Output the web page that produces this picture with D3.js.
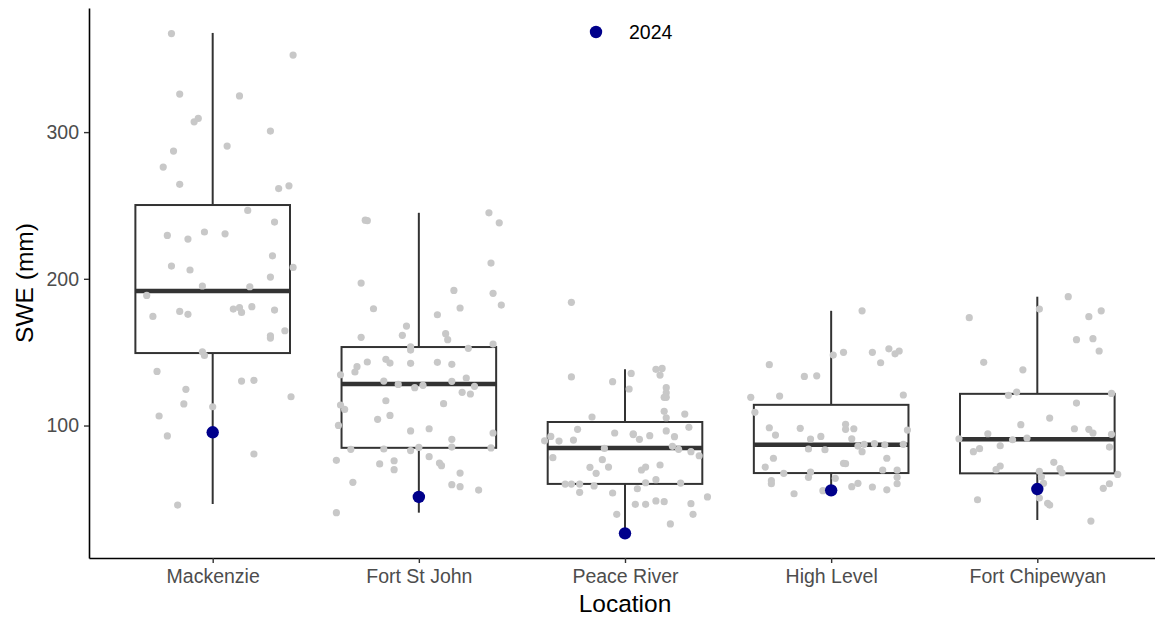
<!DOCTYPE html>
<html>
<head>
<meta charset="utf-8">
<script src="https://cdn.jsdelivr.net/npm/d3@7"></script>
<style>
  html, body { margin: 0; padding: 0; background: #ffffff; }
  svg { display: block; }
</style>
</head>
<body>
<div id="chart"></div>
<script>
// ---------------- DATA ----------------
const categories = ["Mackenzie", "Fort St John", "Peace River", "High Level", "Fort Chipewyan"];
const yTicks = [100, 200, 300];

// box statistics
const q1Values = [149.4, 84.8, 60.2, 67.6, 67.4];
const medianValues = [191.7, 128.3, 84.7, 86.9, 90.6];
const q3Values = [250.3, 153.5, 102.4, 114.1, 121.6];
const whiskerLowValues = [46.5, 40.6, 26.6, 55.8, 35.6];
const whiskerHighValues = [367.6, 245.0, 138.3, 178.2, 187.8];

// 2024 values
const values2024 = [95.4, 51.3, 26.5, 55.8, 56.7];

// historic observations: [SWE, jitter offset as fraction of category step]
const mackenzieObs = [[367.2,-0.20],[352.5,0.39],[325.9,-0.16],[324.7,0.13],[309.3,-0.07],[307.0,-0.09],[300.7,0.28],[287.1,-0.19],[290.5,0.07],[276.2,-0.24],[264.4,-0.16],[261.5,0.32],[263.4,0.37],[246.6,0.17],[238.7,0.30],[229.6,-0.22],[227.1,-0.12],[231.9,-0.04],[230.7,0.06],[215.7,0.29],[208.7,-0.20],[206.0,-0.11],[207.8,0.39],[201.2,0.28],[195.1,-0.05],[194.6,0.18],[188.7,-0.32],[174.4,-0.29],[177.8,-0.16],[175.8,-0.12],[179.4,0.10],[180.3,0.13],[177.1,0.14],[181.0,0.19],[178.7,0.30],[164.6,0.35],[161.2,0.28],[159.6,0.28],[150.3,-0.05],[147.8,-0.04],[136.9,-0.27],[130.3,0.14],[130.8,0.20],[119.6,0.38],[124.7,-0.13],[114.7,-0.14],[112.8,0.00],[106.5,-0.26],[92.9,-0.22],[80.6,0.20],[45.8,-0.17]];
const fortStJohnObs = [[240.0,-0.26],[239.6,-0.25],[245.0,0.34],[238.2,0.39],[210.7,0.35],[197.1,-0.28],[192.1,0.17],[190.1,0.36],[182.1,0.40],[179.6,-0.22],[180.1,0.20],[175.5,0.09],[167.8,-0.06],[161.5,-0.08],[160.1,-0.28],[162.6,0.13],[158.5,0.14],[155.5,0.36],[153.7,-0.04],[151.4,-0.04],[152.6,0.24],[143.3,-0.25],[140.1,-0.30],[136.5,-0.31],[145.1,-0.16],[142.6,-0.14],[142.4,-0.04],[143.1,0.09],[141.7,0.16],[134.6,-0.38],[130.3,-0.17],[128.0,-0.10],[125.8,-0.02],[127.4,0.02],[130.1,0.16],[132.4,0.23],[126.7,0.27],[122.6,0.21],[121.5,0.25],[116.9,-0.16],[114.0,-0.38],[111.0,-0.36],[114.9,0.12],[104.2,-0.20],[106.9,-0.14],[100.1,-0.39],[96.3,-0.04],[97.8,0.05],[94.9,0.36],[90.6,0.16],[83.8,-0.33],[84.0,-0.17],[82.9,-0.04],[85.1,0.00],[85.3,0.16],[84.7,0.35],[76.3,-0.40],[73.8,-0.19],[76.0,-0.12],[69.9,-0.12],[78.8,0.05],[74.4,0.10],[72.6,0.11],[67.6,0.20],[61.3,-0.32],[59.7,0.16],[58.3,0.20],[56.0,0.29],[40.6,-0.40]];
const peaceRiverObs = [[184.0,-0.26],[133.1,-0.26],[129.9,-0.06],[135.5,0.03],[124.9,0.02],[138.3,0.15],[138.9,0.18],[134.4,0.17],[125.8,0.20],[122.3,0.20],[119.2,0.19],[119.2,0.20],[109.7,0.19],[105.3,0.20],[107.8,0.29],[105.8,-0.16],[97.4,-0.23],[94.9,-0.05],[94.4,0.04],[93.8,0.04],[90.6,0.07],[93.1,0.12],[96.3,0.20],[92.4,0.24],[98.8,0.31],[89.6,-0.39],[92.6,-0.36],[89.4,-0.32],[90.1,-0.25],[84.4,-0.10],[85.8,0.23],[83.8,0.26],[82.2,0.32],[79.4,0.36],[78.1,-0.35],[76.7,-0.11],[71.5,-0.17],[67.4,-0.14],[71.7,-0.08],[69.7,0.08],[71.7,0.10],[73.1,0.17],[63.1,0.15],[61.0,0.10],[60.8,0.27],[60.1,-0.29],[60.1,-0.26],[60.1,-0.22],[58.8,-0.15],[54.5,-0.22],[54.0,-0.06],[56.9,0.06],[46.3,0.05],[46.3,0.10],[48.6,0.15],[48.1,0.19],[46.7,0.32],[51.3,0.40],[39.5,-0.04],[39.5,0.33],[32.9,0.22]];
const highLevelObs = [[178.2,0.15],[148.0,0.01],[149.9,0.06],[149.9,0.20],[152.3,0.28],[148.9,0.31],[150.8,0.33],[142.8,0.24],[141.5,-0.30],[133.5,-0.13],[133.9,-0.07],[119.2,-0.39],[120.1,-0.25],[120.8,0.35],[109.0,-0.37],[98.5,-0.30],[98.1,-0.15],[93.5,-0.27],[92.6,-0.05],[90.8,-0.10],[100.8,0.07],[97.4,0.07],[97.8,0.11],[96.9,0.37],[91.0,0.10],[86.0,0.13],[87.2,0.16],[87.6,0.21],[86.9,0.26],[87.2,0.35],[84.0,-0.11],[83.5,-0.03],[82.2,0.15],[77.7,-0.28],[77.7,0.27],[71.7,-0.32],[74.2,0.06],[74.0,0.07],[67.4,-0.23],[68.3,-0.10],[64.7,-0.11],[69.7,0.25],[69.7,0.32],[64.0,0.02],[64.7,0.32],[62.4,-0.29],[60.3,-0.29],[60.3,0.32],[60.6,0.13],[58.3,0.10],[58.1,0.20],[56.2,0.27],[53.5,-0.18],[55.6,-0.04]];
const fortChipewyanObs = [[187.8,0.15],[179.4,0.01],[173.5,-0.33],[174.2,0.25],[178.2,0.31],[158.5,0.19],[159.2,0.27],[150.8,0.30],[143.1,-0.26],[138.0,-0.07],[120.6,-0.14],[122.8,-0.10],[121.9,0.36],[115.3,0.19],[105.1,0.06],[100.6,-0.08],[97.8,0.18],[97.4,0.25],[94.9,0.27],[94.0,0.36],[94.4,-0.24],[91.0,-0.38],[90.3,-0.12],[91.5,-0.05],[86.2,-0.18],[82.2,-0.31],[84.2,-0.28],[85.3,0.35],[74.9,0.08],[72.4,-0.18],[69.9,-0.20],[70.6,0.11],[67.8,0.12],[68.8,0.01],[66.7,0.39],[65.1,0.02],[60.6,0.03],[60.3,0.35],[57.2,0.32],[49.4,-0.29],[50.6,0.01],[47.0,0.05],[45.8,0.06],[34.9,0.26]];

const observations = [mackenzieObs, fortStJohnObs, peaceRiverObs, highLevelObs, fortChipewyanObs];

// ---------------- CHART ----------------
const W = 1155, H = 617;
const plot = { left: 89, right: 1161, top: 8, bottom: 558 };
const FONT = "'Liberation Sans', Arial, Helvetica, sans-serif";

const svg = d3.select("#chart").append("svg")
  .attr("width", W).attr("height", H)
  .style("font-family", FONT);

const x = d3.scalePoint().domain(categories).range([plot.left, plot.right]).padding(0.6);
const step = x.step();
const y = d3.scaleLinear().domain([9.7, 384.6]).range([plot.bottom, plot.top]);

const boxW = step * 0.75;
const boxColor = "#333333";

const boxes = categories.map((c, i) => ({
  cat: c, q1: q1Values[i], med: medianValues[i], q3: q3Values[i],
  lo: whiskerLowValues[i], hi: whiskerHighValues[i]
}));

const gBox = svg.append("g");
// whiskers
gBox.selectAll("line.wup").data(boxes).join("line")
  .attr("x1", d => x(d.cat)).attr("x2", d => x(d.cat))
  .attr("y1", d => y(d.q3)).attr("y2", d => y(d.hi))
  .attr("stroke", boxColor).attr("stroke-width", 2);
gBox.selectAll("line.wlo").data(boxes).join("line")
  .attr("x1", d => x(d.cat)).attr("x2", d => x(d.cat))
  .attr("y1", d => y(d.q1)).attr("y2", d => y(d.lo))
  .attr("stroke", boxColor).attr("stroke-width", 2);
// boxes
gBox.selectAll("rect").data(boxes).join("rect")
  .attr("x", d => x(d.cat) - boxW / 2)
  .attr("width", boxW)
  .attr("y", d => y(d.q3))
  .attr("height", d => y(d.q1) - y(d.q3))
  .attr("fill", "#ffffff")
  .attr("stroke", boxColor).attr("stroke-width", 2);
// medians
gBox.selectAll("line.med").data(boxes).join("line")
  .attr("x1", d => x(d.cat) - boxW / 2).attr("x2", d => x(d.cat) + boxW / 2)
  .attr("y1", d => y(d.med)).attr("y2", d => y(d.med))
  .attr("stroke", boxColor).attr("stroke-width", 4.5);

// jittered observations
const pts = [];
observations.forEach((arr, i) => arr.forEach(([v, j]) => pts.push({ cat: categories[i], v, j })));
svg.append("g").selectAll("circle").data(pts).join("circle")
  .attr("cx", d => x(d.cat) + d.j * step)
  .attr("cy", d => y(d.v))
  .attr("r", 3.6)
  .attr("fill", "#c8c8c8");

// 2024 points
const blue = "#00008B";
svg.append("g").selectAll("circle").data(categories.map((c, i) => ({ cat: c, v: values2024[i] }))).join("circle")
  .attr("cx", d => x(d.cat))
  .attr("cy", d => y(d.v))
  .attr("r", 6.2)
  .attr("fill", blue);

// axes
const yAxis = svg.append("g").attr("transform", `translate(${plot.left},0)`)
  .call(d3.axisLeft(y).tickValues(yTicks).tickSize(5).tickSizeOuter(0).tickPadding(5));
const xAxis = svg.append("g").attr("transform", `translate(0,${plot.bottom})`)
  .call(d3.axisBottom(x).tickSize(5).tickSizeOuter(0).tickPadding(6));

[yAxis, xAxis].forEach(g => {
  g.select(".domain").attr("stroke", "#000").attr("stroke-width", 1.6);
  g.selectAll(".tick line").attr("stroke", "#333333").attr("stroke-width", 1.4);
  g.selectAll(".tick text").attr("fill", "#4d4d4d")
    .style("font-size", "19.5px").style("font-family", FONT);
});

// axis titles
svg.append("text")
  .attr("x", x("Peace River")).attr("y", 612)
  .attr("text-anchor", "middle")
  .style("font-size", "24.5px").attr("fill", "#000")
  .text("Location");
svg.append("text")
  .attr("transform", `translate(33,${(plot.top + plot.bottom) / 2}) rotate(-90)`)
  .attr("text-anchor", "middle")
  .style("font-size", "24.5px").attr("fill", "#000")
  .text("SWE (mm)");

// legend
const lg = svg.append("g").attr("transform", "translate(596,32)");
lg.append("circle").attr("r", 6.2).attr("fill", blue);
lg.append("text").attr("x", 33).attr("dy", "0.35em")
  .style("font-size", "19.5px").attr("fill", "#000").text("2024");
</script>
</body>
</html>
